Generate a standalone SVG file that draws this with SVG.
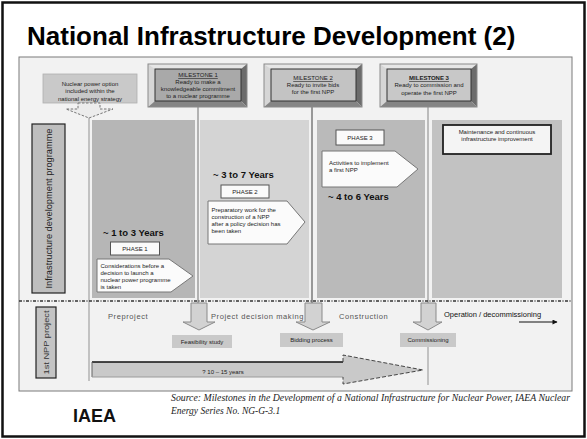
<svg xmlns="http://www.w3.org/2000/svg" width="587" height="439" viewBox="0 0 587 439">
<defs>
<style>
text{font-family:"Liberation Sans",Arial,sans-serif;}
text.src{font-family:"Liberation Serif","Times New Roman",serif;font-style:italic;font-size:9.5px;fill:#222;}
.t{font-size:6px;fill:#222;}
.tc{font-size:6px;fill:#222;text-anchor:middle;}
.yr{font-size:9.5px;font-weight:bold;fill:#111;}
.phase{fill:#fafafa;stroke:#555;stroke-width:1;}
.pent{fill:#fbfbfb;stroke:#777;stroke-width:1;}
.lbl{fill:#c9c9c9;}
.stage{font-size:7.5px;fill:#555;letter-spacing:0.6px;}
.darr{fill:#d2d2d2;stroke:#8a8a8a;stroke-width:1;}
.bevL{fill:#d6d6d6;}
.bevT{fill:#e6e6e6;}
.bevR{fill:#6c6c6c;}
.bevB{fill:#858585;}
.mframe{fill:none;stroke:#8a8a8a;stroke-width:1;}
.mface{stroke:#333;stroke-width:1;}
.mline{stroke-width:1.5;}
</style>
<marker id="ah" viewBox="0 0 10 10" refX="9" refY="5" markerWidth="6" markerHeight="5" orient="auto" markerUnits="userSpaceOnUse">
<path d="M0,0 L10,5 L0,10 Z" fill="#111"/>
</marker>
</defs>

<!-- slide background and frame -->
<rect x="0" y="0" width="587" height="439" fill="#ffffff"/>
<rect x="2.5" y="2.5" width="582" height="434" fill="none" stroke="#111" stroke-width="2.5"/>

<text x="27" y="45" font-size="26" font-weight="bold" fill="#000">National Infrastructure Development (2)</text>

<!-- panel -->
<rect x="19" y="57" width="553" height="334" fill="#f2f2f2" stroke="#7a7a7a" stroke-width="1"/>

<!-- columns -->
<g id="columns">
<rect x="92" y="120" width="103" height="178" fill="#b6b6b6"/>
<rect x="200" y="120" width="109" height="178" fill="#d4d4d4"/>
<rect x="317" y="120" width="108" height="178" fill="#bababa"/>
<rect x="432" y="120" width="130" height="178" fill="#c2c2c2"/>
</g>

<!-- connectors -->
<g id="connectors">
<line x1="89" y1="117" x2="89" y2="381" stroke="#bdbdbd" stroke-width="1.8"/>
<line class="mline" x1="198" y1="107" x2="198" y2="304" stroke="#9c9c9c"/>
<line class="mline" x1="312" y1="107" x2="312" y2="303" stroke="#7a7a7a"/>
<line class="mline" x1="428" y1="107" x2="428" y2="303" stroke="#a8a8a8"/>
<line x1="428" y1="347" x2="428" y2="385" stroke="#bdbdbd" stroke-width="1.8"/>
<line x1="19" y1="301" x2="572" y2="301" stroke="#333" stroke-width="1.6" stroke-dasharray="3,1.5,1,1.5"/>
<line x1="519" y1="322" x2="557" y2="322" stroke="#111" stroke-width="1.2" marker-end="url(#ah)"/>
</g>

<!-- top-left box -->
<g id="energy-strategy">
<rect x="43" y="74" width="94" height="29" fill="#c9c9c9" stroke="#b0b0b0" stroke-width="0.8"/>
<text class="tc" x="90" y="86">Nuclear power option</text>
<text class="tc" x="90" y="93">included within the</text>
<text class="tc" x="90" y="100.5">national energy strategy</text>
<path d="M78,103 L100,103 L100,109 L113,109 L89,118 L66,109 L78,109 Z" fill="#ececec" stroke="#777" stroke-width="1" stroke-dasharray="2.5,1.5"/>
</g>

<!-- milestone 1 -->
<g id="milestone1">
<polygon class="bevT" points="148,64 247,64 241,69 155,69"/>
<polygon class="bevL" points="148,64 155,69 155,101 148,107"/>
<polygon class="bevR" points="247,64 247,107 241,101 241,69"/>
<polygon class="bevB" points="148,107 247,107 241,101 155,101"/>
<rect class="mface" x="155" y="69" width="86" height="32" fill="#a9a9a9"/>
<rect class="mframe" x="148" y="64" width="99" height="43"/>
<text class="tc" x="198" y="77" text-decoration="underline">MILESTONE 1</text>
<text class="tc" x="198" y="83.5">Ready to make a</text>
<text class="tc" x="198" y="91">knowledgeable commitment</text>
<text class="tc" x="198" y="98">to a nuclear programme</text>
</g>

<!-- milestone 2 -->
<g id="milestone2">
<polygon class="bevT" points="264,64 362,64 356,69 271,69"/>
<polygon class="bevL" points="264,64 271,69 271,101 264,107"/>
<polygon class="bevR" points="362,64 362,107 356,101 356,69"/>
<polygon class="bevB" points="264,107 362,107 356,101 271,101"/>
<rect class="mface" x="271" y="69" width="85" height="32" fill="#c3c3c3"/>
<rect class="mframe" x="264" y="64" width="98" height="43"/>
<text class="tc" x="313" y="80" text-decoration="underline">MILESTONE 2</text>
<text class="tc" x="313" y="87">Ready to invite bids</text>
<text class="tc" x="313" y="94">for the first NPP</text>
</g>

<!-- milestone 3 -->
<g id="milestone3">
<polygon class="bevT" points="380,64 477,64 471,69 387,69"/>
<polygon class="bevL" points="380,64 387,69 387,101 380,107"/>
<polygon class="bevR" points="477,64 477,107 471,101 471,69"/>
<polygon class="bevB" points="380,107 477,107 471,101 387,101"/>
<rect class="mface" x="387" y="69" width="84" height="32" fill="#c8c8c8"/>
<rect class="mframe" x="380" y="64" width="97" height="43"/>
<text class="tc" x="429" y="80" text-decoration="underline" font-weight="bold">MILESTONE  3</text>
<text class="tc" x="429" y="87">Ready to commission and</text>
<text class="tc" x="429" y="94.5">operate the first NPP</text>
</g>

<!-- left labels -->
<g id="label-infrastructure">
<rect x="32" y="124" width="33" height="169" fill="#bebebe" stroke="#222" stroke-width="1.2"/>
<text x="0" y="0" font-size="8.5" fill="#222" text-anchor="middle" textLength="160" lengthAdjust="spacingAndGlyphs" transform="translate(51.5,208.5) rotate(-90)">Infrastructure development programme</text>
</g>
<g id="label-npp">
<rect x="36" y="307" width="20" height="71" fill="#c4c4c4" stroke="#222" stroke-width="1.2"/>
<text x="0" y="0" font-size="7.5" fill="#333" text-anchor="middle" textLength="64" lengthAdjust="spacingAndGlyphs" transform="translate(49,342.5) rotate(-90)">1st NPP project</text>
</g>

<!-- phase 1 -->
<g id="phase1">
<text class="yr" x="103" y="236">~ 1 to 3 Years</text>
<rect class="phase" x="110.5" y="242" width="49" height="13"/>
<text class="tc" x="135" y="251">PHASE 1</text>
<polygon class="pent" points="97,259 169,259 193,276 171,292 97,292"/>
<text class="t" x="100.5" y="267.5">Considerations before a</text>
<text class="t" x="100.5" y="274.5">decision to launch a</text>
<text class="t" x="100.5" y="281.5">nuclear power programme</text>
<text class="t" x="100.5" y="288.5">is taken</text>
</g>

<!-- phase 2 -->
<g id="phase2">
<text class="yr" x="213" y="178">~ 3 to 7 Years</text>
<rect class="phase" x="221" y="185" width="48" height="13"/>
<text class="tc" x="245" y="194">PHASE 2</text>
<polygon class="pent" points="208,201 287,201 305,222 287,244 208,244"/>
<text class="t" x="211.5" y="212">Preparatory work for the</text>
<text class="t" x="211.5" y="219">construction of a NPP</text>
<text class="t" x="211.5" y="226">after a policy decision has</text>
<text class="t" x="211.5" y="233">been taken</text>
</g>

<!-- phase 3 -->
<g id="phase3">
<rect class="phase" x="336" y="130" width="48" height="15"/>
<text class="tc" x="360" y="140">PHASE 3</text>
<polygon class="pent" points="322,151 395,151 418,169 397,187 322,187"/>
<text class="t" x="329" y="165">Activities to implement</text>
<text class="t" x="329" y="172">a first NPP</text>
<text class="yr" x="328" y="200">~ 4 to 6 Years</text>
</g>

<!-- phase 4 -->
<g id="phase4">
<rect x="443" y="125" width="108" height="29" fill="#f4f4f4" stroke="#222" stroke-width="1.8"/>
<text class="tc" x="497" y="134">Maintenance and continuous</text>
<text class="tc" x="497" y="141">infrastructure improvement</text>
</g>

<!-- project stages -->
<g id="stages">
<text class="stage" x="108" y="319">Preproject</text>
<text class="stage" x="211" y="319" letter-spacing="0.2">Project decision making</text>
<text class="stage" x="339" y="319">Construction</text>
<text x="444" y="317" font-size="7.5" fill="#111">Operation / decommissioning</text>
</g>

<!-- down arrows -->
<g id="arrow-feasibility">
<polygon class="darr" points="191,303 207,303 207,322 215,322 199,330 183,322 191,322"/>
</g>
<g id="arrow-bidding">
<polygon class="darr" points="305,303 322,303 322,322 330,322 313,330 296,322 305,322"/>
</g>
<g id="arrow-commissioning">
<polygon class="darr" points="421,303 436,303 436,322 442,322 428,330 413,322 421,322"/>
</g>

<!-- grey step boxes -->
<g id="feasibility">
<rect class="lbl" x="172" y="335" width="60" height="13"/>
<text class="tc" x="202" y="343.5" font-size="5.5">Feasibility study</text>
</g>
<g id="bidding">
<rect class="lbl" x="280" y="333" width="63" height="14"/>
<text class="tc" x="311.5" y="342" font-size="5.5">Bidding process</text>
</g>
<g id="commissioning">
<rect class="lbl" x="400" y="333" width="56" height="14"/>
<text class="tc" x="428" y="342" font-size="5.5">Commissioning</text>
</g>

<!-- big timeline arrow -->
<g id="timeline">
<path d="M92,362 L343,362 L343,355 L423,370 L343,384 L343,377 L92,377 Z" fill="#c9c9c9"/>
<line x1="92" y1="362" x2="343" y2="362" stroke="#111" stroke-width="1.5"/>
<line x1="92" y1="362" x2="92" y2="377" stroke="#666" stroke-width="1"/>
<line x1="92" y1="377" x2="343" y2="377" stroke="#9a9a9a" stroke-width="1"/>
<path d="M343,362 L343,355 L423,370 L343,384 L343,377" fill="none" stroke="#444" stroke-width="1" stroke-dasharray="4,2"/>
<text class="tc" x="223" y="373.5">? 10 – 15 years</text>
</g>

<!-- footer -->
<text x="73" y="422" font-size="18" font-weight="bold" fill="#111">IAEA</text>
<text class="src" x="171" y="401" textLength="399" lengthAdjust="spacingAndGlyphs">Source: Milestones in the Development of a National Infrastructure for Nuclear Power, IAEA Nuclear</text>
<text class="src" x="171" y="414">Energy Series No.  NG-G-3.1</text>
</svg>
